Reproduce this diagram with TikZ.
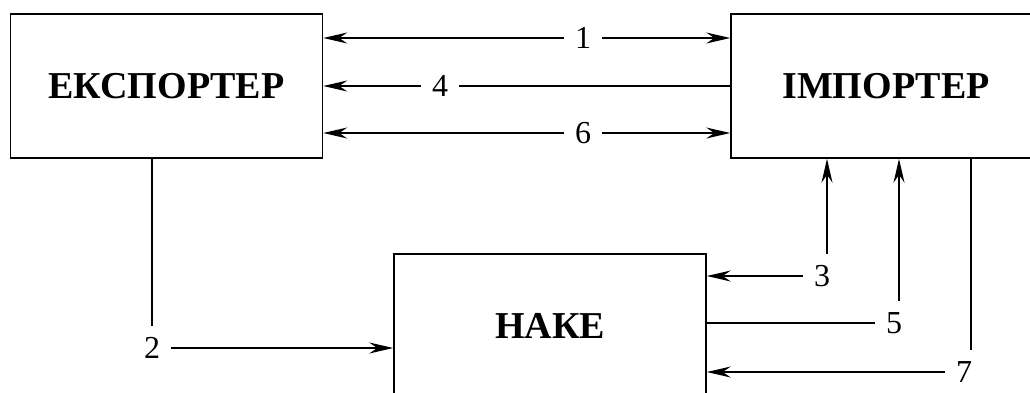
\documentclass[tikz,border=0pt]{standalone}
\usepackage{fontspec}
\setmainfont{Liberation Serif}
\usetikzlibrary{arrows.meta}

\tikzset{
  party/.style={draw, line width=1.5pt, minimum width=312pt, minimum height=144pt,
    inner sep=0pt, font=\fontsize{38}{40}\selectfont\bfseries},
  num/.style={fill=white, inner xsep=11pt, inner ysep=11pt,
    font=\fontsize{32}{34}\selectfont},
  flow/.style={line width=1.5pt},
  arr/.style={flow, -{Stealth[length=24pt, width=11pt, inset=8pt]}}
}

\begin{document}
\begin{tikzpicture}[x=1pt, y=-1pt]

% Frame and clip
\useasboundingbox (0,0) rectangle (1030,392);
\clip (0,0) rectangle (1030,392);

% Parties
\node[party] (exp) at (166.5,86) {ЕКСПОРТЕР};
\node[party, minimum width=310pt] (imp) at (886,86) {ІМПОРТЕР};
\node[party] (nake) at (550,326) {НАКЕ};

% Step numbers
\node[num] (l1) at (583,38) {1};
\node[num] (l4) at (440,86) {4};
\node[num] (l6) at (583,133) {6};
\node[num] (l2) at (152,348) {2};
\node[num] (l3) at (822,276) {3};
\node[num] (l5) at (894,323) {5};
\node[num] (l7) at (964,372) {7};

% Flows between exporter and importer
\draw[arr] (l1.west) -- (exp.east |- l1);
\draw[arr] (l1.east) -- (imp.west |- l1);
\draw[arr] (l4.west) -- (exp.east |- l4);
\draw[flow] (l4.east) -- (imp.west |- l4);
\draw[arr] (l6.west) -- (exp.east |- l6);
\draw[arr] (l6.east) -- (imp.west |- l6);

% Exporter to NAKE
\draw[flow] (exp.south -| l2.north) -- (l2.north);
\draw[arr] (l2.east) -- (nake.west |- l2);

% NAKE and importer
\draw[arr] ([xshift=5pt]l3.north) -- ([xshift=5pt]l3.north |- imp.south);
\draw[arr] (l3.west) -- (nake.east |- l3);
\draw[flow] (nake.east |- l5) -- (l5.west);
\draw[arr] ([xshift=5pt]l5.north) -- ([xshift=5pt]l5.north |- imp.south);
\draw[flow] ([xshift=7pt]imp.south -| l7.north) -- ([xshift=7pt]l7.north);
\draw[arr] (l7.west) -- (nake.east |- l7);

\end{tikzpicture}
\end{document}
